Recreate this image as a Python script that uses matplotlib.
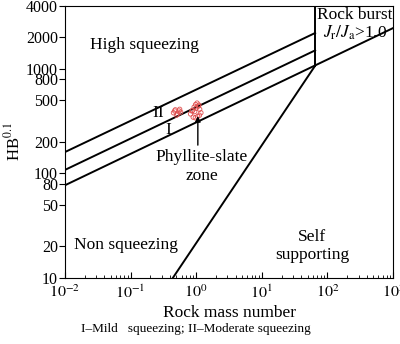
import matplotlib.pyplot as plt
from matplotlib.ticker import FixedLocator, NullFormatter

plt.rcParams['font.family'] = ['Liberation Serif', 'DejaVu Serif']
plt.rcParams['mathtext.fontset'] = 'stix'

# boundary lines (rock mass number Q vs H*B^0.1)
q_short = [0.01, 65]
upper_line = [160, 2200]      # above zone II
middle_line = [108, 1500]     # between I and II
q_long = [0.01, 1000]
lower_line = [77, 2450]       # squeezing / non squeezing
q_steep = [0.44, 65]
steep_line = [10, 1070]
q_vert = [65, 65]
vert_line = [1070, 4000]

# phyllite-slate zone observations
zone_q = [0.45, 0.48, 0.52, 0.55, 0.58, 0.50, 0.47, 0.56,
          0.82, 0.88, 0.93, 0.98, 1.03, 1.08, 1.13, 1.18, 0.90, 0.97, 1.05, 1.12, 0.95, 1.00, 1.10, 0.86]
zone_hb = [380, 405, 370, 395, 385, 360, 395, 410,
           370, 400, 430, 455, 470, 440, 410, 380, 345, 340, 350, 360, 390, 420, 450, 395]

x_ticks = [0.01, 0.1, 1, 10, 100, 1000]
x_labels = ['$10^{-2}$', '$10^{-1}$', '$10^{0}$', '$10^{1}$', '$10^{2}$', '$10^{3}$']
y_ticks = [10, 20, 50, 80, 100, 200, 500, 800, 1000, 2000, 4000]

fig = plt.figure(figsize=(4, 3.44), dpi=100)
ax = fig.add_axes([0.1625, 0.192, 0.82, 0.791])
ax.set_xscale('log')
ax.set_yscale('log')
ax.set_xlim(0.01, 1000)
ax.set_ylim(10, 4000)

kw = dict(color='black', lw=1.4)
ax.plot(q_short, upper_line, **kw)
ax.plot(q_short, middle_line, **kw)
ax.plot(q_long, lower_line, **kw)
ax.plot(q_steep, steep_line, **kw)
ax.plot(q_vert, vert_line, **kw)

ax.scatter(zone_q, zone_hb, s=10, facecolors='none', edgecolors='#e05050', linewidths=0.6, zorder=3)

ax.xaxis.set_major_locator(FixedLocator(x_ticks))
ax.set_xticklabels(x_labels, fontsize=11.5)
ax.tick_params(axis='x', direction='in', length=4, pad=5)
ax.tick_params(axis='x', which='minor', direction='in', length=2.5)
ax.yaxis.set_major_locator(FixedLocator(y_ticks))
ax.yaxis.set_minor_locator(FixedLocator([]))
ax.yaxis.set_minor_formatter(NullFormatter())
ax.set_yticklabels([str(v) for v in y_ticks], fontsize=11.5)
ax.tick_params(axis='y', direction='out', length=4, pad=1)
ax.set_ylabel('HB$^{0.1}$', fontsize=12, labelpad=2)

t = dict(transform=ax.transAxes, ha='center', va='center', fontsize=12.5)
ax.text(0.241, 0.857, 'High squeezing', **t)
ax.text(0.884, 0.967, 'Rock burst', **t)
ax.text(0.884, 0.900, r'$J_\mathrm{r}/J_\mathrm{a}$>1.0', **t)
ax.text(0.284, 0.607, 'II', **t)
ax.text(0.314, 0.544, 'I', **t)
ax.text(0.415, 0.445, 'Phyllite-slate', **t)
ax.text(0.418, 0.375, 'zone', **t)
ax.text(0.186, 0.121, 'Non squeezing', **t)
ax.text(0.753, 0.151, 'Self', **t)
ax.text(0.753, 0.085, 'supporting', **t)
ax.annotate('', xy=(0.405, 0.605), xytext=(0.405, 0.478), xycoords='axes fraction',
            arrowprops=dict(arrowstyle='-|>', color='black', lw=1, mutation_scale=8))

fig.text(0.573, 1 - 313 / 344, 'Rock mass number', ha='center', va='center', fontsize=12.5)
fig.text(0.49, 1 - 329 / 344, 'I\u2013Mild   squeezing; II\u2013Moderate squeezing',
         ha='center', va='center', fontsize=9.5)

fig.savefig('out.png', dpi=100)
